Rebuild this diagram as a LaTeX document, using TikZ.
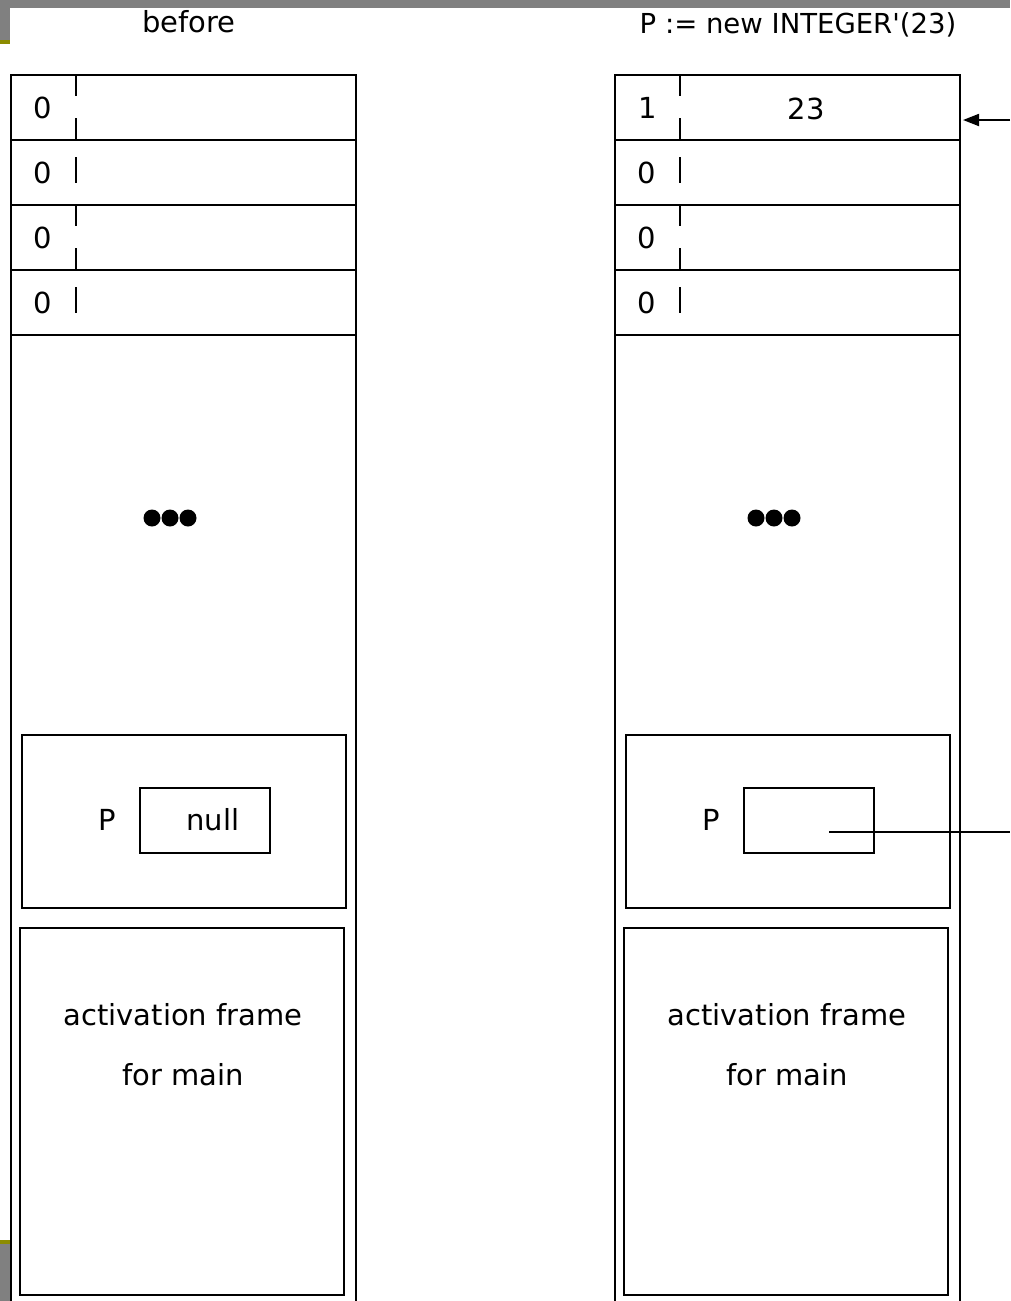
\documentclass[tikz,border=0pt]{standalone}
\usepackage{fontspec}
\setmainfont{DejaVu Sans}[Ligatures=TeXReset]
\usetikzlibrary{arrows.meta}
\definecolor{barGray}{RGB}{128,128,128}
\definecolor{accentOlive}{RGB}{140,140,0}
\begin{document}
\begin{tikzpicture}[x=1pt,y=-1pt,line width=1.8pt,
  txt/.style={font=\fontsize{29}{29}\selectfont, inner sep=0pt, anchor=base},
  dot/.style={fill=black}]
\useasboundingbox (0,0) rectangle (1010,1301);
\fill[white] (0,0) rectangle (1010,1301);

% slide chrome
\fill[barGray] (0,0) rectangle (1010,8);
\fill[barGray] (0,0) rectangle (10,40);
\fill[accentOlive] (0,40) rectangle (10,44);
\fill[accentOlive] (0,1240) rectangle (10,1244);
\fill[barGray] (0,1244) rectangle (10,1301);

% headings
\node[txt] (hBefore) at (189,32) {before};
\node[txt, font=\fontsize{27.5}{28}\selectfont] (hAfter) at (798,33) {P := new INTEGER'(23)};

% two memory columns
\foreach \c/\x in {L/11,R/615} {
  \draw (\x,1301) -- (\x,75) -- (\x+345,75) -- (\x+345,1301);
  \foreach \y in {140,205,270,335} \draw (\x,\y) -- (\x+345,\y);
  % tag separators
  \foreach \t in {75,205} {
    \draw (\x+65,\t) -- (\x+65,\t+21);
    \draw (\x+65,\t+43) -- (\x+65,\t+65);
  }
  \foreach \t in {140,270} \draw (\x+65,\t+17) -- (\x+65,\t+43);
  % ellipsis
  \foreach \d in {-18,0,18} \fill[dot] (\x+159+\d,518) circle (8.5);
  % frame holding P
  \draw (\x+11,735) rectangle (\x+335,908);
  \draw (\x+129,788) rectangle (\x+259,853);
  \node[txt] (pName\c) at (\x+96,830) {P};
  % main activation frame
  \draw (\x+9,928) rectangle (\x+333,1295);
  \node[txt] (act\c) at (\x+172,1025) {activation frame};
  \node[txt] (main\c) at (\x+172,1085) {for main};
  % tag bits of rows 2-4
  \node[txt] (tagTwo\c) at (\x+32,183) {0};
  \node[txt] (tagThree\c) at (\x+32,248) {0};
  \node[txt] (tagFour\c) at (\x+32,313) {0};
}

% first row, before and after
\node[txt] (tagOneL) at (43,118) {0};
\node[txt] (tagOneR) at (648,118) {1};
\node[txt] (cellVal) at (806,119) {23};
\node[txt] (nullVal) at (213,830) {null};

% pointer from P to the allocated cell
\coordinate (pSrc) at (829,832);
\coordinate (pOut) at (1010,832);
\coordinate (pIn) at (1010,120);
\coordinate (cellEdge) at (963,120);
\draw (pSrc) -- (pOut);
\draw[-{Triangle[length=16pt,width=12pt]}] (pIn) -- (cellEdge);
\end{tikzpicture}
\end{document}
